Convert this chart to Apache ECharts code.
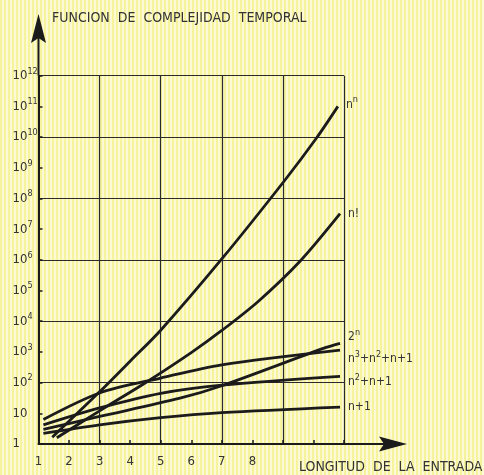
<!DOCTYPE html>
<html>
<head>
<meta charset="utf-8">
<script src="https://cdn.jsdelivr.net/npm/echarts@6/dist/echarts.min.js"></script>
<style>
  html, body { margin: 0; padding: 0; }
  #chart {
    width: 484px; height: 475px;
    background: repeating-linear-gradient(90deg, #f7f39d 0px, #f7f39d 2px, #fcfad4 2px, #fcfad4 4px);
  }
</style>
</head>
<body>
<div id="chart"></div>
<script>
const FONT = '"Liberation Sans Narrow", "DejaVu Sans Condensed", sans-serif';
const INK = '#1b1b1b';

// tick labels
const xTickLabels = ['1', '2', '3', '4', '5', '6', '7', '8', '', '', ''];   // n = 1..11
const yTickLabels = ['1', '10', '10{s|2}', '10{s|3}', '10{s|4}', '10{s|5}', '10{s|6}',
  '10{s|7}', '10{s|8}', '10{s|9}', '10{s|10}', '10{s|11}', '10{s|12}'];

// curve names and their end labels
const curveNames = ['n^n', 'n!', '2^n', 'n^3+n^2+n+1', 'n^2+n+1', 'n+1'];
const curveLabels = ['n{s|n}', 'n!', '2{s|n}', 'n{s|3}+n{s|2}+n+1', 'n{s|2}+n+1', 'n+1'];

// [n, value]
const nPowN = [[1.45, 1.66], [3, 50], [4, 500], [5, 5.1e3], [7, 1.07e6], [9.07, 4.0e8], [10.1, 9.3e9], [10.8, 1.0e11]];
const nFact = [[1.6, 1.6], [3, 12], [4.54, 105], [6, 950], [7, 5.0e3], [8.2, 4.5e4], [9.56, 9.0e5], [10.87, 3.2e7]];
const twoPowN = [[1.16, 3.0], [3, 7.9], [5.63, 31], [7, 79], [10.32, 1.3e3], [10.87, 1.9e3]];
const cubic = [[1.16, 6.3], [3, 46], [5, 141], [7, 380], [10.87, 1150]];
const quad = [[1.16, 4.2], [3, 15], [5, 45], [7, 83], [10.87, 160]];
const linear = [[1.16, 2.2], [3, 4.2], [5, 7.2], [7, 10.5], [10.87, 16]];

const curveData = [nPowN, nFact, twoPowN, cubic, quad, linear];
const labelShift = [[0, -2], [0, 0], [0, -6], [0, 9], [0, 6], [0, 0]];

const GL = 38.5, GT = 75.7, GR = 344, GB = 444;

const chart = echarts.init(document.getElementById('chart'));

const supRich = {
  s: { fontSize: 9, fontFamily: FONT, color: '#333', padding: [0, 0, 9, 0] }
};

const option = {
  backgroundColor: 'transparent',
  animation: false,
  textStyle: { fontFamily: FONT },
  title: [
    {
      text: 'FUNCION  DE  COMPLEJIDAD  TEMPORAL',
      left: 47, top: 6,
      textStyle: { fontFamily: FONT, fontSize: 14, fontWeight: 'normal', color: '#333' }
    },
    {
      text: 'LONGITUD  DE  LA  ENTRADA',
      left: 294, top: 455,
      textStyle: { fontFamily: FONT, fontSize: 14, fontWeight: 'normal', color: '#333' }
    }
  ],
  grid: { left: GL, top: GT, right: 484 - GR, bottom: 475 - GB },
  xAxis: [
    {
      type: 'value', position: 'bottom', min: 1, max: 11, interval: 2,
      axisLine: { show: true, lineStyle: { color: INK, width: 2 } },
      axisTick: { show: false },
      axisLabel: { show: false },
      splitLine: { show: true, lineStyle: { color: '#2a2a2a', width: 1.2 } }
    },
    {
      type: 'value', position: 'bottom', min: 1, max: 11, interval: 1,
      axisLine: { show: false },
      axisTick: { show: true, inside: true, length: 4, lineStyle: { color: INK, width: 1.5 } },
      axisLabel: {
        margin: 11, fontSize: 13, color: '#333', fontFamily: FONT,
        formatter: v => xTickLabels[Math.round(v) - 1] || ''
      },
      splitLine: { show: false }
    }
  ],
  yAxis: [
    {
      type: 'log', logBase: 10, position: 'left', min: 1, max: 1e12, interval: 2,
      axisLine: { show: true, lineStyle: { color: INK, width: 2 } },
      axisTick: { show: false },
      axisLabel: { show: false },
      splitLine: { show: true, lineStyle: { color: '#2a2a2a', width: 1.2 } }
    },
    {
      type: 'log', logBase: 10, position: 'left', min: 1, max: 1e12, interval: 1,
      axisLine: { show: false },
      axisTick: { show: true, inside: true, length: 4, lineStyle: { color: INK, width: 1.5 } },
      axisLabel: {
        margin: 26, align: 'left', fontSize: 13, color: '#333', fontFamily: FONT,
        formatter: v => yTickLabels[Math.round(Math.log10(v))] || '',
        rich: supRich
      },
      splitLine: { show: false }
    }
  ],
  series: curveData.map((d, i) => ({
    name: curveNames[i],
    type: 'line',
    xAxisIndex: 0,
    yAxisIndex: 0,
    data: d,
    smooth: 0.3,
    symbol: 'none',
    lineStyle: { color: INK, width: 2.8 },
    endLabel: {
      show: true,
      distance: 8,
      offset: labelShift[i],
      formatter: () => curveLabels[i],
      fontSize: 12,
      fontFamily: FONT,
      color: '#333',
      rich: supRich
    }
  })),
  graphic: [
    { type: 'line', shape: { x1: GL, y1: GT, x2: GL, y2: 36 }, style: { stroke: INK, lineWidth: 2 } },
    { type: 'polygon', shape: { points: [[GL, 14], [GL + 7.5, 43], [GL, 38], [GL - 7.5, 43]] }, style: { fill: INK } },
    { type: 'line', shape: { x1: GR, y1: GB, x2: 386, y2: GB }, style: { stroke: INK, lineWidth: 2 } },
    { type: 'polygon', shape: { points: [[407, GB], [379, GB - 7.5], [384, GB], [379, GB + 7.5]] }, style: { fill: INK } }
  ]
};

chart.setOption(option);
</script>
</body>
</html>
